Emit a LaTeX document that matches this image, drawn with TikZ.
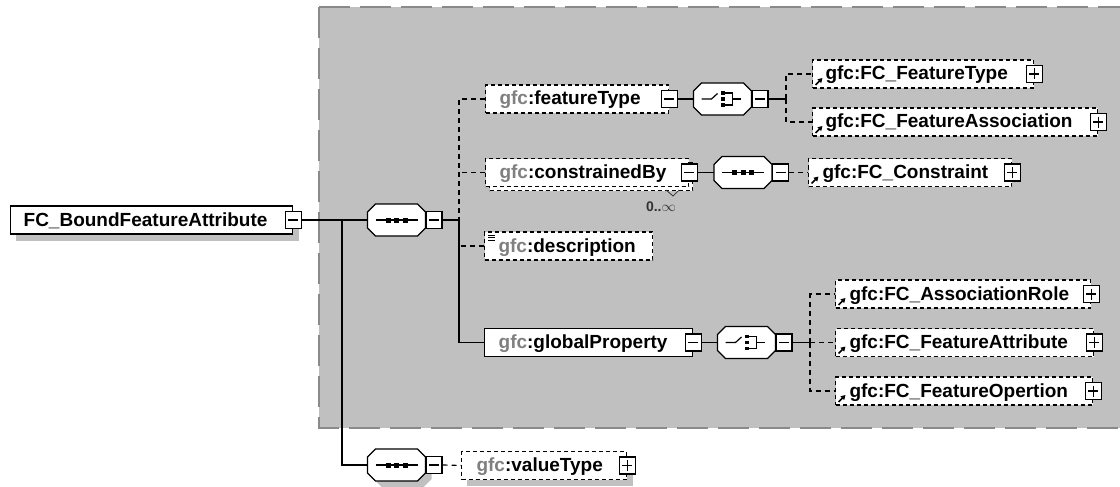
\documentclass[tikz,border=0pt]{standalone}
\usepackage{fontspec}
\setmainfont{Liberation Sans}
\usetikzlibrary{arrows.meta,calc}
\definecolor{bggray}{HTML}{C0C0C0}
\definecolor{bordergray}{HTML}{8A8A8A}
\definecolor{gfcgray}{HTML}{808080}
\definecolor{shadowgray}{HTML}{C0C0C0}
\pgfdeclarelayer{back}
\pgfdeclarelayer{conn}
\pgfsetlayers{back,conn,main}
\newcommand\elemfont{\fontsize{19}{22}\selectfont\bfseries}
\newcommand\gfc[1]{\textcolor{gfcgray}{gfc}:#1}
\tikzset{
  elem/.style={draw=black, fill=white, line width=1.3pt, rectangle, minimum height=28pt,
    inner ysep=0pt, inner xsep=14pt, align=left, anchor=west, text height=15pt, text depth=3pt, font=\elemfont},
  optelem/.style={elem, dash pattern=on 4pt off 3pt, line width=1.1pt},
  minusbox/.style={draw=black, fill=white, line width=1.1pt, minimum width=16pt, minimum height=17pt, inner sep=0pt,
    path picture={\draw[line width=1.1pt] ([xshift=3pt]path picture bounding box.west) -- ([xshift=-3pt]path picture bounding box.east);}},
  plusbox/.style={draw=black, fill=white, line width=1.1pt, minimum width=16pt, minimum height=17pt, inner sep=0pt,
    path picture={\draw[line width=1.1pt] ([xshift=3pt]path picture bounding box.west) -- ([xshift=-3pt]path picture bounding box.east)
      ([yshift=-3pt]path picture bounding box.north) -- ([yshift=3pt]path picture bounding box.south);}},
  octn/.style={rectangle, minimum width=58pt, minimum height=32pt, inner sep=0pt},
  octline/.style={draw=black, fill=white, line width=1.3pt},
  conn/.style={line width=1.3pt},
  dconn/.style={line width=1.2pt, dash pattern=on 5pt off 4pt},
  iconline/.style={line width=1.2pt},
}
\newcommand\myoct[3]{%
  \node[octn] (#1) at (#2,#3) {};
  \draw[octline] (#2,#3) ++(-21,-16) -- ++(42,0) -- ++(8,8) -- ++(0,16) -- ++(-8,8) -- ++(-42,0) -- ++(-8,-8) -- ++(0,-16) -- cycle;
}
\newcommand\seqicon[2]{%
  \begin{scope}[shift={(#1,#2)}]
    \draw[iconline] (-21,0) -- (21,0);
    \foreach \i in {-8.5,0,8.5} \fill (\i-2.5,-2.5) rectangle (\i+2.5,2.5);
  \end{scope}}
\newcommand\choiceicon[2]{%
  \begin{scope}[shift={(#1,#2)}]
    \draw[iconline] (-21,0) -- (-11,0) -- (-5,-5.5);
    \foreach \j in {-6,0,6} \fill (-1.5,\j-1.6) rectangle (2,\j+1.6);
    \draw[iconline] (2,-6) -- (10,-6) -- (10,6) -- (2,6) (10,0) -- (18,0);
  \end{scope}}
\newcommand\refarrow[1]{\draw[line width=1.6pt, -{Triangle[length=4.5pt,width=5pt]}] ($(#1.west)+(3.5,11)$) -- ($(#1.west)+(10.5,4)$);}
\begin{document}
\begin{tikzpicture}[x=1pt,y=-1pt]
\useasboundingbox (0,0) rectangle (1120,487);

% main element
\node[elem, inner xsep=13pt, text width=256pt] (A) at (10,220) {FC\_BoundFeatureAttribute};
\node[minusbox] (mA) at (A.east) {};

% first sequence
\myoct{s1}{396.5}{220}
\seqicon{396.5}{220}
\node[minusbox] (ms1) at (434,220) {};
\coordinate (j0) at (342,220);
\coordinate (j1) at (459,220);

% featureType
\node[optelem, text width=155pt] (ft) at (485,99) {\gfc{featureType}};
\node[minusbox] (mft) at (ft.east) {};
\myoct{c1}{722.5}{99}
\choiceicon{722.5}{99}
\node[minusbox] (mc1) at (760,99) {};
\coordinate (j2) at (786,99);
\node[optelem, text width=195pt, inner xsep=13pt] (fct) at (812,74) {gfc:FC\_FeatureType};
\node[plusbox] (pfct) at (fct.east) {};
\refarrow{fct}
\node[optelem, text width=259pt, inner xsep=13pt] (fca) at (812,122) {gfc:FC\_FeatureAssociation};
\node[plusbox] (pfca) at (fca.east) {};
\refarrow{fca}

% constrainedBy
\node[optelem, text width=175pt] (cbb) at (489,176.5) {};
\node[optelem, text width=175pt] (cb) at (485,172.5) {\gfc{constrainedBy}};
\node[minusbox] (mcb) at (cb.east) {};
\draw[line width=0.8pt, black!80] ($(cbb.south east)+(-27,-1)$) -- ++(7,6) -- ++(6,-6);
\node[font=\fontsize{14}{16}\selectfont\bfseries, text=black!80, inner sep=0pt] (card) at (661,207) {0..$\infty$};
\myoct{s2}{743}{172.5}
\seqicon{743}{172.5}
\node[minusbox] (ms2) at (780.5,172.5) {};
\node[optelem, text width=175pt] (fcc) at (808,172.5) {gfc:FC\_Constraint};
\node[plusbox] (pfcc) at (fcc.east) {};
\refarrow{fcc}

% description
\node[optelem, text width=140pt] (desc) at (484,246) {\gfc{description}};
\foreach \k in {3.5,6,8.5}
  \draw[line width=0.8pt] ($(desc.north west)+(4,\k)$) -- ++(7,0);

% globalProperty
\node[elem, text width=180pt] (gp) at (484,342.5) {\gfc{globalProperty}};
\node[minusbox] (mgp) at (gp.east) {};
\myoct{c2}{746.5}{342.5}
\choiceicon{746.5}{342.5}
\node[minusbox] (mc2) at (784,342.5) {};
\coordinate (j3) at (810,342.5);
\node[optelem, text width=227pt] (ar) at (835,294) {gfc:FC\_AssociationRole};
\node[plusbox] (par) at (ar.east) {};
\refarrow{ar}
\node[optelem, text width=230pt] (fa) at (835,342.5) {gfc:FC\_FeatureAttribute};
\node[plusbox] (pfa) at (fa.east) {};
\refarrow{fa}
\node[optelem, text width=229pt] (fo) at (835,391) {gfc:FC\_FeatureOpertion};
\node[plusbox] (pfo) at (fo.east) {};
\refarrow{fo}

% valueType
\myoct{s3}{396.5}{465}
\seqicon{396.5}{465}
\node[minusbox] (ms3) at (434,465) {};
\node[optelem, text width=135pt, inner xsep=15pt] (vt) at (461,465.5) {\gfc{valueType}};
\node[plusbox] (pvt) at (vt.east) {};

% background and shadows
\begin{pgfonlayer}{back}
  \draw[fill=bggray, draw=bordergray, line width=2pt, dash pattern=on 31pt off 10pt] (319,7) rectangle (1123,428);
  \fill[shadowgray] ($(A.north west)+(6,6)$) rectangle ($(A.south east)+(6,6)$);
  \fill[shadowgray] ($(vt.north west)+(6,6)$) rectangle ($(vt.south east)+(6,6)$);
  \fill[shadowgray] (402.5,471) ++(-21,-16) -- ++(42,0) -- ++(8,8) -- ++(0,16) -- ++(-8,8) -- ++(-42,0) -- ++(-8,-8) -- ++(0,-16) -- cycle;
\end{pgfonlayer}

% connectors
\begin{pgfonlayer}{conn}
  \draw[conn] (mA.east) -- (s1.west);
  \draw[conn] (j0) |- (s3.west);
  \draw[conn] (ms1.east) -- (j1);
  \draw[dconn] (ft.west) -| (j1);
  \draw[dconn] (cb.west) -- (cb.west -| j1);
  \draw[dconn] (desc.west) -- (desc.west -| j1);
  \draw[conn] (j1) |- (gp.west);
  \draw[conn] (mft.east) -- (c1.west);
  \draw[conn] (mc1.east) -- (j2);
  \draw[dconn] (j2) |- (fct.west);
  \draw[dconn] (j2) |- (fca.west);
  \draw[conn] (mcb.east) -- (s2.west);
  \draw[dconn] (ms2.east) -- (fcc.west);
  \draw[conn] (mgp.east) -- (c2.west);
  \draw[conn] (mc2.east) -- (j3);
  \draw[dconn] (j3) |- (ar.west);
  \draw[dconn] (j3) -- (fa.west);
  \draw[dconn] (j3) |- (fo.west);
  \draw[dconn] (ms3.east) -- (vt.west);
\end{pgfonlayer}
\end{tikzpicture}
\end{document}
